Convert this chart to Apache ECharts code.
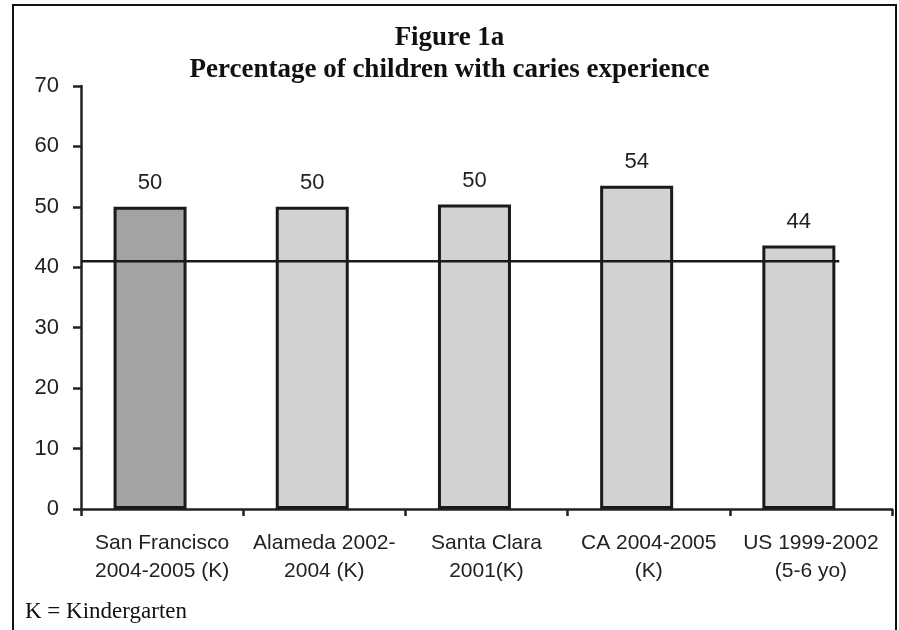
<!DOCTYPE html>
<html>
<head>
<meta charset="utf-8">
<script src="https://cdn.jsdelivr.net/npm/echarts@6/dist/echarts.min.js"></script>
<style>
  html, body { margin: 0; padding: 0; background: #fff; }
  #main { width: 899px; height: 630px; }
</style>
</head>
<body>
<div id="main"></div>
<script>
// categories (two-line labels)
var categories = ['San Francisco\n2004-2005 (K)', 'Alameda 2002-\n2004 (K)', 'Santa Clara\n2001(K)', 'CA 2004-2005\n(K)', 'US 1999-2002\n(5-6 yo)'];
// percentage of children with caries experience
var values = [50.0, 50.0, 50.4, 53.5, 43.6];
// reference line level
var targetLevel = 41;
var targetSpan = [0, 93.5];
var yTicks = { min: 0, max: 70, interval: 10 };

var myChart = echarts.init(document.getElementById('main'));

var barData = values.map(function (v, i) {
    return {
        value: v,
        itemStyle: i === 0 ? { color: '#a3a3a3' } : { color: '#d2d2d2' }
    };
});

var option = {
    backgroundColor: '#fff',
    animation: false,
    title: {
        text: 'Figure 1a\nPercentage of children with caries experience',
        left: 'center',
        top: 17,
        textStyle: {
            fontFamily: 'Liberation Serif',
            fontWeight: 'bold',
            fontSize: 27,
            lineHeight: 32,
            color: '#111'
        }
    },
    graphic: [
        {
            type: 'rect',
            shape: { x: 13, y: 5, width: 883, height: 640 },
            style: { fill: null, stroke: '#111', lineWidth: 2 },
            silent: true
        },
        {
            type: 'text',
            left: 25,
            top: 600,
            style: {
                text: 'K = Kindergarten',
                font: '23px "Liberation Serif"',
                fill: '#111'
            }
        }
    ],
    grid: { left: 81, right: 7, top: 86, bottom: 121 },
    xAxis: [
        {
            type: 'category',
            data: categories,
            axisLine: { lineStyle: { color: '#222', width: 2.5 } },
            axisTick: { show: true, length: 7, lineStyle: { color: '#222', width: 2.5 } },
            axisLabel: {
                interval: 0,
                margin: 20,
                fontFamily: 'Liberation Sans',
                fontSize: 21,
                lineHeight: 28,
                color: '#222'
            }
        },
        {
            type: 'value',
            min: 0,
            max: 100,
            show: false
        }
    ],
    yAxis: {
        type: 'value',
        min: yTicks.min,
        max: yTicks.max,
        interval: yTicks.interval,
        axisLine: { show: true, lineStyle: { color: '#222', width: 2.5 } },
        axisTick: { show: true, length: 8, lineStyle: { color: '#222', width: 2.5 } },
        axisLabel: {
            margin: 22,
            fontFamily: 'Liberation Sans',
            fontSize: 22,
            color: '#222'
        },
        splitLine: { show: false }
    },
    series: [
        {
            type: 'bar',
            data: barData,
            barWidth: 73,
            barGap: '-67%',
            itemStyle: { borderColor: '#1a1a1a', borderWidth: 3 },
            label: {
                show: true,
                position: 'top',
                distance: 13,
                fontFamily: 'Liberation Sans',
                fontSize: 22,
                color: '#222',
                formatter: function (p) { return Math.round(p.value); }
            },
            z: 2
        },
        {
            // empty spacer series so the bars sit left of the category centre
            type: 'bar',
            data: categories.map(function () { return '-'; }),
            barWidth: 73,
            silent: true
        },
        {
            type: 'line',
            xAxisIndex: 1,
            data: [[targetSpan[0], targetLevel], [targetSpan[1], targetLevel]],
            symbol: 'none',
            lineStyle: { color: '#1a1a1a', width: 2.5 },
            z: 5
        }
    ]
};

myChart.setOption(option);
</script>
</body>
</html>
